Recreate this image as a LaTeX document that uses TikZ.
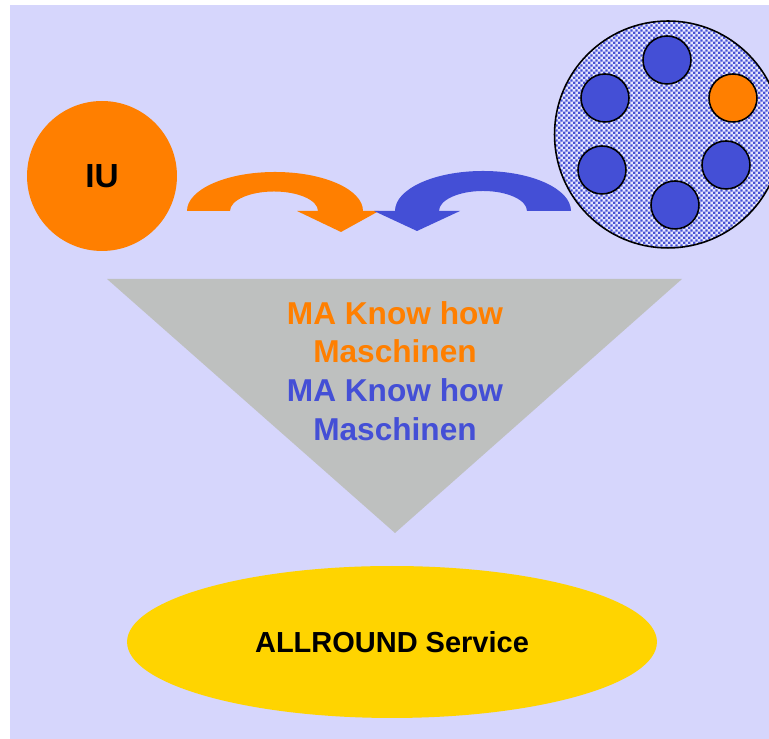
\documentclass[tikz,border=0pt]{standalone}
\usepackage{fontspec}
\setmainfont{Liberation Sans}
\usetikzlibrary{shapes.geometric,patterns.meta}
\tikzdeclarepattern{
  name=feinkaro,
  type=uncolored,
  bounding box={(0,0) and (3pt,3pt)},
  tile size={(3pt,3pt)},
  code={
    \fill (0,0) rectangle (1.5pt,1.5pt);
    \fill (1.5pt,1.5pt) rectangle (3pt,3pt);
  }
}

\begin{document}
\begin{tikzpicture}[x=0.02cm,y=0.02cm]
    \definecolor{bglila}{RGB}{214,214,252};
    \definecolor{maorange}{RGB}{255,127,0};
    \definecolor{mablue}{RGB}{68,79,214};
    \definecolor{trigray}{RGB}{190,192,191};
    \definecolor{servicegold}{RGB}{255,212,0};
\useasboundingbox (0,0) rectangle (769,739);
\fill [bglila] (10,0) rectangle (769,734);
% Dreieck
\coordinate (t1) at (107,460);
\coordinate (t2) at (682,460);
\coordinate (t3) at (395,206);
\fill [trigray] (t1)--(t2)--(t3)--cycle;
% Pfeile
\fill [maorange] (187,528) arc (180:0:88 and 39) -- (379,528) -- (341,507)
   -- (297,528) -- (318,528) arc (0:180:44 and 19.5) -- cycle;
\fill [mablue] (571,528) arc (0:180:88 and 40) -- (374,528) -- (417,508)
   -- (460,528) -- (439,528) arc (180:0:44 and 20) -- cycle;
\node (iu) [circle,fill=maorange,minimum size=3cm,inner sep=0pt,
   font=\bfseries\fontsize{19}{23}\selectfont] at (102,563) {IU};
\node (pool) [circle,draw=black,line width=0.9pt,minimum size=4.54cm,
   preaction={fill=bglila!60!white},pattern=feinkaro,pattern color=mablue] at (668,604.5) {};
 \tikzstyle{every node}=[circle,draw=black,line width=0.9pt,fill=mablue,minimum size=0.96cm,inner sep=0pt];
\foreach \n/\x/\y in {1/667/679,2/605/641,4/602/569,5/726/574,6/675/534} {
    \node (m\n) at (\x,\y) {};
}
\node (m3) [fill=maorange] at (733,641) {};
 \tikzstyle{every node}=[];
\node (know) [align=center,inner sep=0pt,font=\bfseries\fontsize{18}{22}\selectfont] at (395,368)
   {\textcolor{maorange}{MA Know how}\\\textcolor{maorange}{Maschinen}\\
    \textcolor{mablue}{MA Know how}\\\textcolor{mablue}{Maschinen}};
\node (service) [ellipse,fill=servicegold,minimum width=10.6cm,minimum height=3.04cm,inner sep=0pt,
   font=\bfseries\fontsize{16.5}{20}\selectfont] at (392,97) {ALLROUND Service};
\end{tikzpicture}
\end{document}
